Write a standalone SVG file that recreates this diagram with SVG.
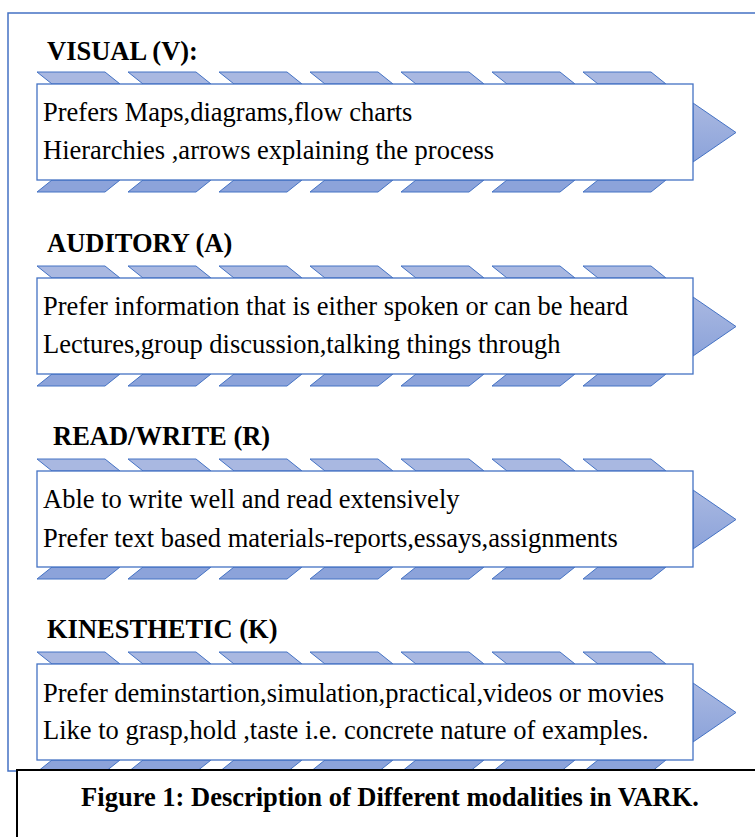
<svg xmlns="http://www.w3.org/2000/svg" xmlns:xlink="http://www.w3.org/1999/xlink" width="755" height="837" viewBox="0 0 755 837">
  <style>
    .frame { fill: none; stroke: #4472C4; stroke-width: 1.5; }
    .cap { fill: #ffffff; stroke: #000000; stroke-width: 2; }
    .box { fill: #ffffff; stroke: #4472C4; stroke-width: 1.3; }
    .ptop { fill: #A9B8E1; stroke: #4472C4; stroke-width: 1; }
    .pbot { fill: #8CA3DA; stroke: #4472C4; stroke-width: 1; }
    .tri { fill: url(#triGrad); stroke: #4472C4; stroke-width: 1; }
    .hd { font-family: "Liberation Serif", "Times New Roman", serif; font-weight: bold; font-size: 26.5px; fill: #000; }
    .tx { font-family: "Liberation Serif", "Times New Roman", serif; font-size: 26.5px; fill: #000; }
    .ct { font-family: "Liberation Serif", "Times New Roman", serif; font-weight: bold; font-size: 26.5px; fill: #000; text-anchor: middle; }
  </style>
  <defs>
    <linearGradient id="triGrad" x1="0" y1="0" x2="0" y2="1">
      <stop offset="0" stop-color="#A9B8E1"/>
      <stop offset="1" stop-color="#8CA3DA"/>
    </linearGradient>
    <path id="pt" d="M0,0 h68 l15,12 h-68 z"/>
    <path id="pb" d="M15,0 h68 l-15,12 h-68 z"/>
    <path id="tr" d="M0,0 L43,29.5 L0,59 z"/>
    <g id="topStrip">
      <use xlink:href="#pt" x="0" class="ptop"/>
      <use xlink:href="#pt" x="91" class="ptop"/>
      <use xlink:href="#pt" x="182" class="ptop"/>
      <use xlink:href="#pt" x="273" class="ptop"/>
      <use xlink:href="#pt" x="364" class="ptop"/>
      <use xlink:href="#pt" x="455" class="ptop"/>
      <use xlink:href="#pt" x="546" class="ptop"/>
    </g>
    <g id="botStrip">
      <use xlink:href="#pb" x="0" class="pbot"/>
      <use xlink:href="#pb" x="91" class="pbot"/>
      <use xlink:href="#pb" x="182" class="pbot"/>
      <use xlink:href="#pb" x="273" class="pbot"/>
      <use xlink:href="#pb" x="364" class="pbot"/>
      <use xlink:href="#pb" x="455" class="pbot"/>
      <use xlink:href="#pb" x="546" class="pbot"/>
    </g>
  </defs>

  <rect width="755" height="837" fill="#ffffff"/>

  <g id="frame">
    <rect class="frame" x="8" y="13" width="780" height="758"/>
  </g>

  <g id="connectors"></g>

  <g id="visual">
    <text class="hd" x="47" y="60">VISUAL (V):</text>
    <use xlink:href="#topStrip" x="37" y="72"/>
    <use xlink:href="#botStrip" x="37" y="180"/>
    <use xlink:href="#tr" x="693" y="103" class="tri"/>
    <rect class="box" x="37" y="84" width="656" height="96"/>
    <text class="tx" x="43" y="121">Prefers Maps,diagrams,flow charts</text>
    <text class="tx" x="43" y="159">Hierarchies ,arrows explaining the process</text>
  </g>

  <g id="auditory">
    <text class="hd" x="47" y="252">AUDITORY (A)</text>
    <use xlink:href="#topStrip" x="37" y="266"/>
    <use xlink:href="#botStrip" x="37" y="374"/>
    <use xlink:href="#tr" x="693" y="297" class="tri"/>
    <rect class="box" x="37" y="278" width="656" height="96"/>
    <text class="tx" x="43" y="315">Prefer information that is either spoken or can be heard</text>
    <text class="tx" x="43" y="353">Lectures,group discussion,talking things through</text>
  </g>

  <g id="readwrite">
    <text class="hd" x="53" y="445">READ/WRITE (R)</text>
    <use xlink:href="#topStrip" x="37" y="459"/>
    <use xlink:href="#botStrip" x="37" y="567"/>
    <use xlink:href="#tr" x="693" y="490" class="tri"/>
    <rect class="box" x="37" y="471" width="656" height="96"/>
    <text class="tx" x="43" y="508">Able to write well and read extensively</text>
    <text class="tx" x="43" y="547">Prefer text based materials-reports,essays,assignments</text>
  </g>

  <g id="kinesthetic">
    <text class="hd" x="47" y="638">KINESTHETIC (K)</text>
    <use xlink:href="#topStrip" x="37" y="652"/>
    <use xlink:href="#botStrip" x="37" y="760"/>
    <use xlink:href="#tr" x="693" y="683" class="tri"/>
    <rect class="box" x="37" y="664" width="656" height="96"/>
    <text class="tx" x="43" y="702">Prefer deminstartion,simulation,practical,videos or movies</text>
    <text class="tx" x="43" y="739">Like to grasp,hold ,taste i.e. concrete nature of examples.</text>
  </g>

  <g id="caption">
    <rect class="cap" x="17" y="770" width="800" height="100"/>
    <text class="ct" x="390" y="806">Figure 1: Description of Different modalities in VARK.</text>
  </g>
</svg>
